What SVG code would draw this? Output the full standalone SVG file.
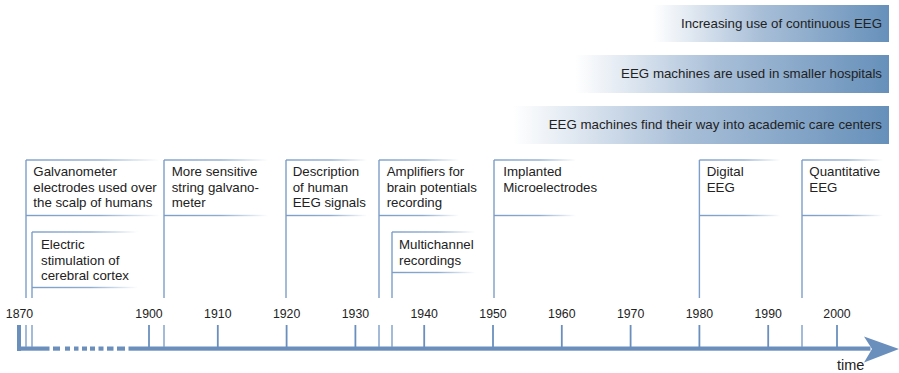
<svg xmlns="http://www.w3.org/2000/svg" width="899" height="373" viewBox="0 0 899 373">
  <defs>
    <linearGradient id="barFill" x1="0" y1="0" x2="1" y2="0">
      <stop offset="0" stop-color="#ffffff"/>
      <stop offset="0.45" stop-color="#a9bfd8"/>
      <stop offset="1" stop-color="#6690ba"/>
    </linearGradient>
    <linearGradient id="rule" x1="0" y1="0" x2="1" y2="0">
      <stop offset="0" stop-color="#7d9ec8" stop-opacity="1"/>
      <stop offset="0.55" stop-color="#7d9ec8" stop-opacity="0.85"/>
      <stop offset="1" stop-color="#7d9ec8" stop-opacity="0"/>
    </linearGradient>
  </defs>
  <style>
    text { font-family: "Liberation Sans", Arial, sans-serif; fill: #222; }
    .lbl { font-size: 13.3px; }
    .yr { font-size: 12.3px; text-anchor: middle; }
    .bar-text { font-size: 13.3px; text-anchor: end; }
    .stem { stroke: #7d9ec8; stroke-width: 1.4; fill: none; }
    .rule { fill: url(#rule); }
    .axis { fill: #6b8fbd; }
    .tick { stroke: #6b8fbd; stroke-width: 1.8; }
  </style>

  <rect width="899" height="373" fill="#ffffff"/>

  <!-- usage bands -->
  <g id="band-continuous">
    <rect x="653" y="5" width="236" height="37" fill="url(#barFill)"/>
    <text class="bar-text" x="882" y="28">Increasing use of continuous EEG</text>
  </g>
  <g id="band-smaller-hospitals">
    <rect x="575" y="55" width="314" height="38" fill="url(#barFill)"/>
    <text class="bar-text" x="882" y="78">EEG machines are used in smaller hospitals</text>
  </g>
  <g id="band-academic">
    <rect x="513" y="106" width="376" height="38" fill="url(#barFill)"/>
    <text class="bar-text" x="882" y="129">EEG machines find their way into academic care centers</text>
  </g>

  <!-- time axis -->
  <g id="axis">
    <rect class="axis" x="17" y="325" width="4" height="26"/>
    <rect class="axis" x="17" y="346.5" width="32.5" height="4.2"/>
    <rect class="axis" x="53" y="346.5" width="7" height="4.2"/>
    <rect class="axis" x="65" y="346.5" width="5" height="4.2"/>
    <rect class="axis" x="74" y="346.5" width="4.5" height="4.2"/>
    <rect class="axis" x="82" y="346.5" width="5" height="4.2"/>
    <rect class="axis" x="90" y="346.5" width="5" height="4.2"/>
    <rect class="axis" x="98.5" y="346.5" width="5" height="4.2"/>
    <rect class="axis" x="107" y="346.5" width="6.5" height="4.2"/>
    <rect class="axis" x="117" y="346.5" width="8" height="4.2"/>
    <rect class="axis" x="128.5" y="346.5" width="742" height="4.2"/>
    <path class="axis" d="M864,336.5 L899,349 L864,362.5 L872,349 Z"/>
    <g>
      <line class="tick" x1="149" y1="325" x2="149" y2="347"/>
      <line class="tick" x1="217.8" y1="325" x2="217.8" y2="347"/>
      <line class="tick" x1="286.6" y1="325" x2="286.6" y2="347"/>
      <line class="tick" x1="355.4" y1="325" x2="355.4" y2="347"/>
      <line class="tick" x1="424.2" y1="325" x2="424.2" y2="347"/>
      <line class="tick" x1="493" y1="325" x2="493" y2="347"/>
      <line class="tick" x1="561.8" y1="325" x2="561.8" y2="347"/>
      <line class="tick" x1="630.6" y1="325" x2="630.6" y2="347"/>
      <line class="tick" x1="699.4" y1="325" x2="699.4" y2="347"/>
      <line class="tick" x1="768.2" y1="325" x2="768.2" y2="347"/>
      <line class="tick" x1="837" y1="325" x2="837" y2="347"/>
    </g>
    <g>
      <text class="yr" x="19.5" y="318">1870</text>
      <text class="yr" x="149" y="318">1900</text>
      <text class="yr" x="217.8" y="318">1910</text>
      <text class="yr" x="286.6" y="318">1920</text>
      <text class="yr" x="355.4" y="318">1930</text>
      <text class="yr" x="424.2" y="318">1940</text>
      <text class="yr" x="493" y="318">1950</text>
      <text class="yr" x="561.8" y="318">1960</text>
      <text class="yr" x="630.6" y="318">1970</text>
      <text class="yr" x="699.4" y="318">1980</text>
      <text class="yr" x="768.2" y="318">1990</text>
      <text class="yr" x="837" y="318">2000</text>
    </g>
    <text x="837" y="369.5" style="font-size:14.5px">time</text>
  </g>

  <!-- stems linking each event to the axis -->
  <g id="connectors">
    <path class="stem" d="M26,160 V298 M26,325 V347"/>
    <path class="stem" d="M32,232 V298 M32,325 V347"/>
    <path class="stem" d="M164,160 V298 M164,325 V347"/>
    <path class="stem" d="M286,160 V298"/>
    <path class="stem" d="M379,160 V298 M379,325 V347"/>
    <path class="stem" d="M392,232 V298 M392,325 V347"/>
    <path class="stem" d="M494,160 V298"/>
    <path class="stem" d="M699.4,160 V298"/>
    <path class="stem" d="M802,160 V298 M802,325 V347"/>
  </g>

  <!-- events -->
  <g id="galvanometer">
    <rect class="rule" x="26" y="159.3" width="134" height="1.4"/>
    <rect class="rule" x="26" y="214.8" width="134" height="1.4"/>
    <text class="lbl" x="33.3" y="176">Galvanometer</text>
    <text class="lbl" x="33.3" y="191.5">electrodes used over</text>
    <text class="lbl" x="33.3" y="207">the scalp of humans</text>
  </g>
  <g id="electric-stimulation">
    <rect class="rule" x="32" y="231.3" width="106" height="1.4"/>
    <rect class="rule" x="32" y="286.8" width="106" height="1.4"/>
    <text class="lbl" x="41" y="249">Electric</text>
    <text class="lbl" x="41" y="264.5">stimulation of</text>
    <text class="lbl" x="41" y="280">cerebral cortex</text>
  </g>
  <g id="string-galvanometer">
    <rect class="rule" x="164" y="159.3" width="104" height="1.4"/>
    <rect class="rule" x="164" y="214.8" width="104" height="1.4"/>
    <text class="lbl" x="171.7" y="176">More sensitive</text>
    <text class="lbl" x="171.7" y="191.5">string galvano-</text>
    <text class="lbl" x="171.7" y="207">meter</text>
  </g>
  <g id="human-eeg">
    <rect class="rule" x="286" y="159.3" width="81" height="1.4"/>
    <rect class="rule" x="286" y="214.8" width="81" height="1.4"/>
    <text class="lbl" x="292.7" y="176">Description</text>
    <text class="lbl" x="292.7" y="191.5">of human</text>
    <text class="lbl" x="292.7" y="207">EEG signals</text>
  </g>
  <g id="amplifiers">
    <rect class="rule" x="379" y="159.3" width="80" height="1.4"/>
    <rect class="rule" x="379" y="214.8" width="80" height="1.4"/>
    <text class="lbl" x="386.7" y="176">Amplifiers for</text>
    <text class="lbl" x="386.7" y="191.5">brain potentials</text>
    <text class="lbl" x="386.7" y="207">recording</text>
  </g>
  <g id="multichannel">
    <rect class="rule" x="392" y="231.3" width="83" height="1.4"/>
    <rect class="rule" x="392" y="271.8" width="83" height="1.4"/>
    <text class="lbl" x="399" y="249">Multichannel</text>
    <text class="lbl" x="399" y="264.5">recordings</text>
  </g>
  <g id="microelectrodes">
    <rect class="rule" x="494" y="159.3" width="82" height="1.4"/>
    <rect class="rule" x="494" y="214.8" width="82" height="1.4"/>
    <text class="lbl" x="503.3" y="176">Implanted</text>
    <text class="lbl" x="503.3" y="191.5">Microelectrodes</text>
  </g>
  <g id="digital-eeg">
    <rect class="rule" x="699.4" y="159.3" width="81" height="1.4"/>
    <rect class="rule" x="699.4" y="214.8" width="81" height="1.4"/>
    <text class="lbl" x="706.7" y="176">Digital</text>
    <text class="lbl" x="706.7" y="191.5">EEG</text>
  </g>
  <g id="quantitative-eeg">
    <rect class="rule" x="802" y="159.3" width="81" height="1.4"/>
    <rect class="rule" x="802" y="214.8" width="81" height="1.4"/>
    <text class="lbl" x="809.3" y="176">Quantitative</text>
    <text class="lbl" x="809.3" y="191.5">EEG</text>
  </g>
</svg>
